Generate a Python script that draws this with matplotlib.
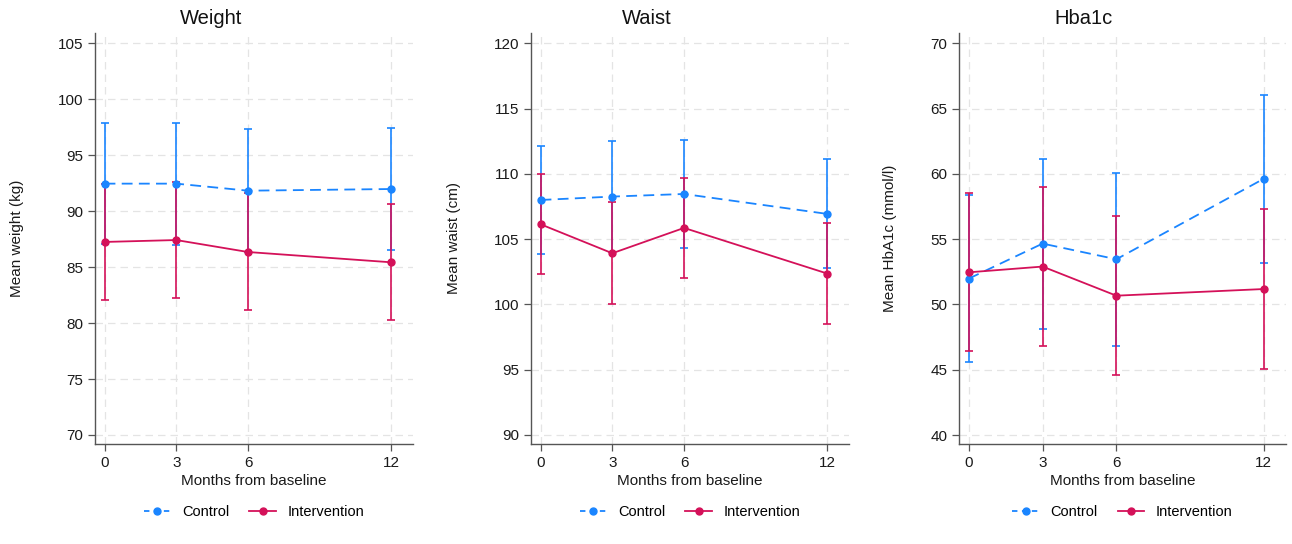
import numpy as np
import matplotlib.pyplot as plt
from matplotlib.lines import Line2D

plt.rcParams['font.family'] = ['Liberation Sans', 'DejaVu Sans']

months = [0, 3, 6, 12]

# Weight (kg)
weight_ctrl = [92.46, 92.46, 91.83, 91.98]
weight_ctrl_lo = [87.07, 87.02, 86.35, 86.53]
weight_ctrl_hi = [97.85, 97.90, 97.31, 97.43]
weight_int = [87.25, 87.42, 86.35, 85.43]
weight_int_lo = [82.06, 82.24, 81.20, 80.25]
weight_int_hi = [92.44, 92.60, 91.65, 90.67]

# Waist (cm)
waist_ctrl = [108.00, 108.26, 108.46, 106.93]
waist_ctrl_lo = [103.89, 104.03, 104.30, 102.77]
waist_ctrl_hi = [112.11, 112.49, 112.60, 111.12]
waist_int = [106.14, 103.92, 105.86, 102.36]
waist_int_lo = [102.31, 100.01, 102.03, 98.53]
waist_int_hi = [110.02, 107.85, 109.71, 106.24]

# HbA1c (mmol/l)
hba_ctrl = [51.98, 54.66, 53.46, 59.63]
hba_ctrl_lo = [45.62, 48.12, 46.84, 53.18]
hba_ctrl_hi = [58.38, 61.17, 60.04, 66.04]
hba_int = [52.46, 52.90, 50.67, 51.18]
hba_int_lo = [46.44, 46.80, 44.60, 45.08]
hba_int_hi = [58.51, 59.00, 56.78, 57.29]

BLUE = '#1A85FF'
RED = '#D41159'

panels = [
    dict(title='Weight', ylabel='Mean weight (kg)', yticks=[70, 75, 80, 85, 90, 95, 100, 105],
         ctrl=(weight_ctrl, weight_ctrl_lo, weight_ctrl_hi),
         intv=(weight_int, weight_int_lo, weight_int_hi),
         rect=(95, 413), ylabx=17, titlex=211),
    dict(title='Waist', ylabel='Mean waist (cm)', yticks=[90, 95, 100, 105, 110, 115, 120],
         ctrl=(waist_ctrl, waist_ctrl_lo, waist_ctrl_hi),
         intv=(waist_int, waist_int_lo, waist_int_hi),
         rect=(531, 849), ylabx=454, titlex=647),
    dict(title='Hba1c', ylabel='Mean HbA1c (mmol/l)', yticks=[40, 45, 50, 55, 60, 65, 70],
         ctrl=(hba_ctrl, hba_ctrl_lo, hba_ctrl_hi),
         intv=(hba_int, hba_int_lo, hba_int_hi),
         rect=(959, 1286), ylabx=890, titlex=1084),
]

W, H = 1292, 544
fig = plt.figure(figsize=(W / 100, H / 100), dpi=100)

for p in panels:
    x0, x1 = p['rect']
    top, bot = 33, 444
    ax = fig.add_axes([x0 / W, 1 - bot / H, (x1 - x0) / W, (bot - top) / H])
    lo_t, hi_t = p['yticks'][0], p['yticks'][-1]
    span = hi_t - lo_t
    # ticks sit ~9-10 px inside the plot edges
    pad = span / (435 - 43.3)
    ax.set_ylim(lo_t - 9 * pad, hi_t + 10.3 * pad)
    ax.set_xlim(-0.4, 12.9)
    ax.set_xticks(months)
    ax.set_yticks(p['yticks'])

    for (m, lo, hi), col in [(p['ctrl'], BLUE), (p['intv'], RED)]:
        m = np.array(m)
        ax.errorbar(months, m, yerr=[m - np.array(lo), np.array(hi) - m], fmt='none',
                    ecolor=col, elinewidth=1.2, capsize=3, capthick=1.2, zorder=3)
    m, lo, hi = p['ctrl']
    ax.plot(months, m, color=BLUE, ls=(0, (6, 3.5)), lw=1.3, marker='o', ms=5, zorder=4)
    m, lo, hi = p['intv']
    ax.plot(months, m, color=RED, ls='-', lw=1.3, marker='o', ms=5, zorder=5)

    ax.grid(True, color='#e4e4e4', ls=(0, (6, 4)), lw=0.9)
    ax.set_axisbelow(True)
    for s in ['top', 'right']:
        ax.spines[s].set_visible(False)
    for s in ['left', 'bottom']:
        ax.spines[s].set_color('#555555')
        ax.spines[s].set_linewidth(1.0)
    ax.tick_params(axis='both', colors='#555555', labelcolor='#1a1a1a', labelsize=11,
                   length=5, width=0.9)
    ax.set_xlabel('Months from baseline', fontsize=11, color='#1a1a1a', labelpad=3)

    fig.text(p['ylabx'] / W, 1 - 238 / H, p['ylabel'], rotation=90, fontsize=11,
             color='#1a1a1a', ha='center', va='center')
    fig.text(p['titlex'] / W, 1 - 18 / H, p['title'], fontsize=14.5, color='#111111',
             ha='center', va='center')

    handles = [Line2D([], [], color=BLUE, ls=(0, (3, 2.5)), lw=1.3, marker='o', ms=5),
               Line2D([], [], color=RED, ls='-', lw=1.3, marker='o', ms=5)]
    cx = (x0 + x1) / 2
    fig.legend(handles, ['Control', 'Intervention'], loc='center',
               bbox_to_anchor=(cx / W, 1 - 512 / H), ncol=2, frameon=False,
               fontsize=10.5, handlelength=1.8, columnspacing=1.4, handletextpad=0.8)

fig.savefig('out.png', dpi=100, facecolor='white')
